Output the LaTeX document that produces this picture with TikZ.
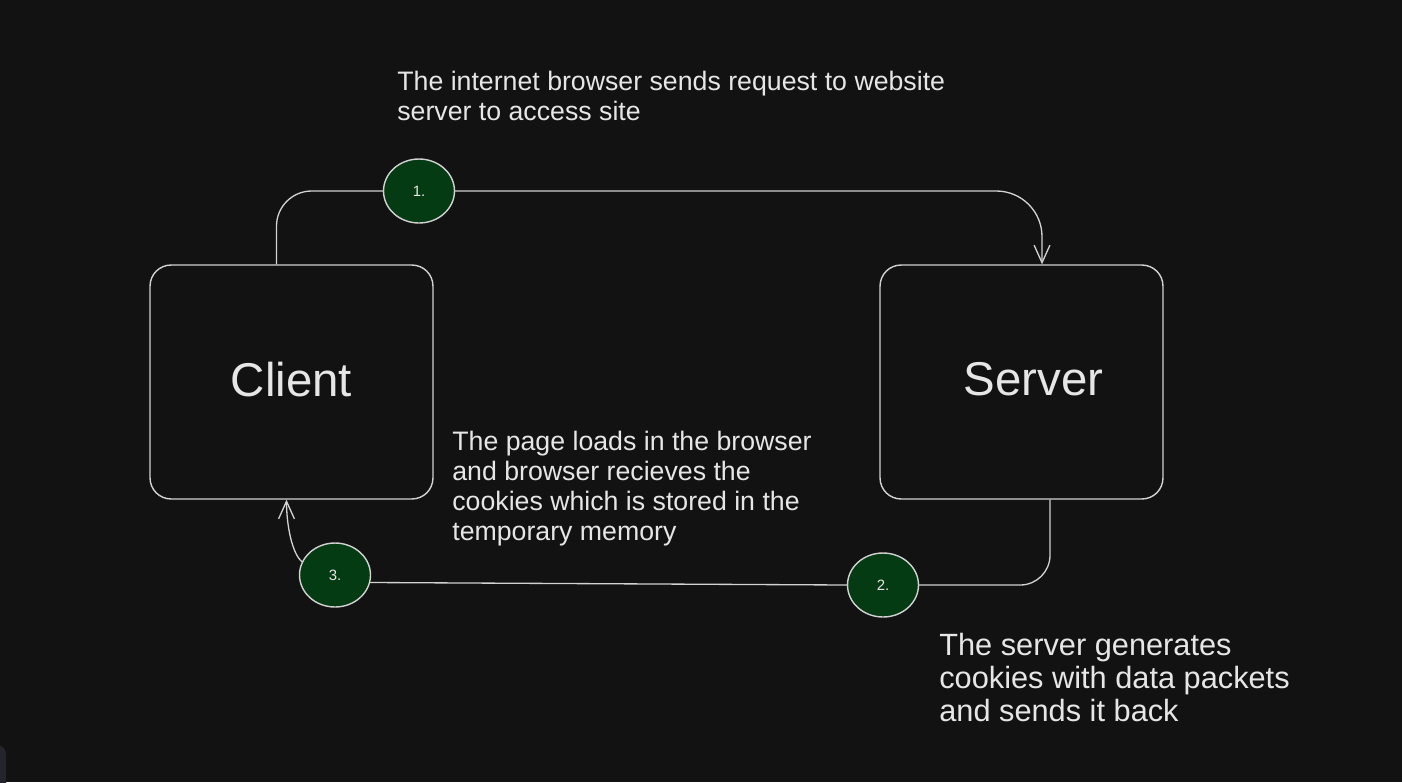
\documentclass[tikz,border=0pt]{standalone}
\usepackage{fontspec}
\setmainfont{Liberation Sans}
\usetikzlibrary{shapes.geometric, arrows.meta, calc}
\usetikzlibrary{positioning}

\definecolor{bgdark}{HTML}{121212}
\definecolor{inkline}{HTML}{D2D2D2}
\definecolor{inktext}{HTML}{E6E6E6}
\definecolor{stepgreen}{HTML}{053B12}
\definecolor{cornergray}{HTML}{24242B}

\tikzset{
  box/.style={draw=inkline, line width=0.8pt, rounded corners=12pt,
    minimum width=5.66cm, minimum height=4.68cm,
    font=\fontsize{27}{32}\selectfont, text=inktext},
  stepdot/.style={ellipse, draw=inkline, fill=stepgreen, line width=0.8pt,
    minimum width=1.42cm, minimum height=1.28cm, inner sep=0pt,
    font=\fontsize{8.5}{10}\selectfont, text=inktext},
  note/.style={align=left, anchor=north west, inner sep=0pt, text=inktext,
    font=\fontsize{15.2}{17.1}\selectfont},
  link/.style={draw=inkline, line width=0.75pt},
  flow/.style={-{Straight Barb[length=10pt,width=9pt]}}
}

\begin{document}
\begin{tikzpicture}[x=0.02cm, y=-0.02cm]

\useasboundingbox (0,0) rectangle (1402,782);
\fill[bgdark] (0,0) rectangle (1402,782);
\fill[cornergray, rounded corners=5pt] (-20,745) rectangle (6,810);

\node[box] at (291.5, 382) (client) {\raisebox{3pt}{Client}};
\node[box] at (1021.5, 382) (server) {\raisebox{3pt}{\hspace*{14pt}Server}};

\node[stepdot] at (419, 191) (step1) {1.};
\node[stepdot] at (883, 585) (step2) {2.};
\node[stepdot] at (335, 575) (step3) {3.};

\coordinate (clientout) at ($(client.north)+(-15,0)$);
\coordinate (serverin) at ($(server.north)+(20.5,0)$);
\coordinate (serverout) at ($(server.south)+(28.5,0)$);
\coordinate (clientin) at ($(client.south)+(-5,0)$);

\draw[link, rounded corners=20pt] (clientout) |- (step1.west);
\draw[link, flow, rounded corners=26pt] (step1.east) -| (serverin);
\draw[link, rounded corners=17pt] (serverout) |- (step2.east);
\draw[link] (step2.west) -- (step3.-12);
\draw[link, flow] (step3.158) .. controls +(-10,-8) and +(0,25) .. (clientin);

\node[note] at (397, 71) (note1) {The internet browser sends request to website\\server to access site};
\node[note] at (452, 431) (note3) {The page loads in the browser\\and browser recieves the\\cookies which is stored in the\\temporary memory};
\node[note, font=\fontsize{17.5}{18.8}\selectfont] at (939, 633) (note2) {The server generates\\cookies with data packets\\and sends it back};

\end{tikzpicture}
\end{document}
